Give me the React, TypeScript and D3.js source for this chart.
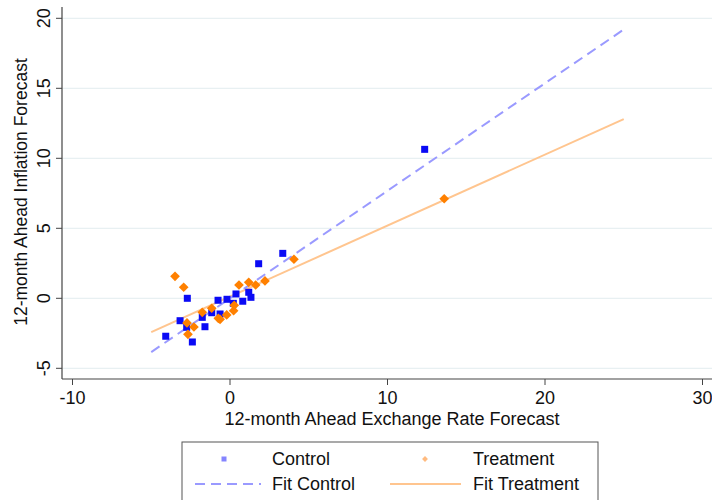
import React, { useRef, useEffect } from 'react';
import * as d3 from 'd3';

// Control group (blue squares)
const controlX = [-4.08, -3.17, -2.71, -2.75, -2.39, -1.76, -1.59, -1.16, -0.76, -0.63, -0.19, 0.21, 0.38, 0.81, 1.19, 1.33, 1.82, 3.35, 12.36];
const controlY = [-2.71, -1.6, 0.0, -2.07, -3.12, -1.36, -2.03, -1.03, -0.14, -1.12, -0.07, -0.36, 0.31, -0.21, 0.43, 0.07, 2.47, 3.21, 10.64];

// Treatment group (orange diamonds)
const treatX = [-3.49, -2.94, -2.73, -2.67, -2.29, -1.76, -1.16, -0.74, -0.63, -0.21, 0.23, 0.27, 0.57, 1.19, 1.63, 2.22, 4.06, 13.6];
const treatY = [1.57, 0.79, -1.76, -2.57, -2.05, -1.0, -0.71, -1.43, -1.5, -1.19, -0.89, -0.5, 0.95, 1.14, 0.95, 1.24, 2.79, 7.11];

// fitted lines, endpoints
const fitX = [-5, 25];
const fitControlY = [-3.84, 19.2];
const fitTreatY = [-2.41, 12.8];

const xTicks = [-10, 0, 10, 20, 30];
const yTicks = [-5, 0, 5, 10, 15, 20];

const FONT = 'Liberation Sans, Arial, sans-serif';

const App: React.FC = () => {
  const svgRef = useRef<SVGSVGElement | null>(null);

  useEffect(() => {
    const width = 712;
    const height = 500;
    const svg = d3.select(svgRef.current);
    svg.selectAll('*').remove();

    const x = d3.scaleLinear().domain([-10, 30]).range([72.5, 702.5]);
    const y = d3.scaleLinear().domain([-5, 20]).range([368.3, 18.3]);

    const left = 62;
    const bottom = 379;
    const top = 7;

    svg.append('rect').attr('width', width).attr('height', height).attr('fill', '#fff');

    // horizontal gridlines
    svg
      .append('g')
      .selectAll('line')
      .data(yTicks)
      .enter()
      .append('line')
      .attr('x1', left)
      .attr('x2', width)
      .attr('y1', d => y(d))
      .attr('y2', d => y(d))
      .attr('stroke', '#e8f0f2')
      .attr('stroke-width', 1.2);

    // y axis
    const yAxis = svg.append('g');
    yAxis.append('line').attr('x1', left).attr('x2', left).attr('y1', top).attr('y2', bottom).attr('stroke', '#444').attr('stroke-width', 1.2);
    yAxis
      .selectAll('line.tick')
      .data(yTicks)
      .enter()
      .append('line')
      .attr('class', 'tick')
      .attr('x1', left - 6)
      .attr('x2', left)
      .attr('y1', d => y(d))
      .attr('y2', d => y(d))
      .attr('stroke', '#444');
    yAxis
      .selectAll('text')
      .data(yTicks)
      .enter()
      .append('text')
      .attr('transform', d => `translate(50,${y(d)}) rotate(-90)`)
      .attr('text-anchor', 'middle')
      .attr('font-family', FONT)
      .attr('font-size', 18)
      .attr('fill', '#111')
      .text(d => String(d));

    svg
      .append('text')
      .attr('transform', `translate(27,192) rotate(-90)`)
      .attr('text-anchor', 'middle')
      .attr('font-family', FONT)
      .attr('font-size', 17.5)
      .attr('fill', '#111')
      .text('12-month Ahead Inflation Forecast');

    // x axis
    const xAxis = svg.append('g');
    xAxis.append('line').attr('x1', left).attr('x2', width).attr('y1', bottom).attr('y2', bottom).attr('stroke', '#444').attr('stroke-width', 1.2);
    xAxis
      .selectAll('line.tick')
      .data(xTicks)
      .enter()
      .append('line')
      .attr('class', 'tick')
      .attr('x1', d => x(d))
      .attr('x2', d => x(d))
      .attr('y1', bottom)
      .attr('y2', bottom + 6)
      .attr('stroke', '#444');
    xAxis
      .selectAll('text')
      .data(xTicks)
      .enter()
      .append('text')
      .attr('x', d => x(d))
      .attr('y', 404)
      .attr('text-anchor', 'middle')
      .attr('font-family', FONT)
      .attr('font-size', 18)
      .attr('fill', '#111')
      .text(d => String(d));

    svg
      .append('text')
      .attr('x', 392)
      .attr('y', 425)
      .attr('text-anchor', 'middle')
      .attr('font-family', FONT)
      .attr('font-size', 18)
      .attr('fill', '#111')
      .text('12-month Ahead Exchange Rate Forecast');

    const line = d3
      .line<[number, number]>()
      .x(d => x(d[0]))
      .y(d => y(d[1]));

    // fit lines
    svg
      .append('path')
      .attr('d', line(fitX.map((v, i) => [v, fitTreatY[i]]) as [number, number][])!)
      .attr('fill', 'none')
      .attr('stroke', '#ffc58f')
      .attr('stroke-width', 2);
    svg
      .append('path')
      .attr('d', line(fitX.map((v, i) => [v, fitControlY[i]]) as [number, number][])!)
      .attr('fill', 'none')
      .attr('stroke', '#9a9aff')
      .attr('stroke-width', 2)
      .attr('stroke-dasharray', '10,6');

    // control squares
    const s = 7;
    svg
      .append('g')
      .selectAll('rect')
      .data(controlX.map((v, i) => [v, controlY[i]]))
      .enter()
      .append('rect')
      .attr('x', d => x(d[0]) - s / 2)
      .attr('y', d => y(d[1]) - s / 2)
      .attr('width', s)
      .attr('height', s)
      .attr('fill', '#0a0af5');

    // treatment diamonds
    const diamond = d3.symbol().type(d3.symbolDiamond2).size(60);
    svg
      .append('g')
      .selectAll('path')
      .data(treatX.map((v, i) => [v, treatY[i]]))
      .enter()
      .append('path')
      .attr('transform', d => `translate(${x(d[0])},${y(d[1])})`)
      .attr('d', diamond()!)
      .attr('fill', '#ff8000');

    // legend
    const lg = svg.append('g');
    lg.append('rect')
      .attr('x', 182)
      .attr('y', 442)
      .attr('width', 416)
      .attr('height', 70)
      .attr('fill', '#fff')
      .attr('stroke', '#555')
      .attr('stroke-width', 1);
    lg.append('rect').attr('x', 221.5).attr('y', 456.5).attr('width', 5).attr('height', 5).attr('fill', '#8585ff');
    lg.append('path')
      .attr('transform', 'translate(425,459)')
      .attr('d', d3.symbol().type(d3.symbolDiamond2).size(22)()!)
      .attr('fill', '#ffbb80');
    lg.append('line')
      .attr('x1', 195)
      .attr('x2', 261)
      .attr('y1', 484)
      .attr('y2', 484)
      .attr('stroke', '#9a9aff')
      .attr('stroke-width', 2)
      .attr('stroke-dasharray', '10,6');
    lg.append('line')
      .attr('x1', 390)
      .attr('x2', 461)
      .attr('y1', 484)
      .attr('y2', 484)
      .attr('stroke', '#ffc58f')
      .attr('stroke-width', 2);
    const labels: [string, number, number][] = [
      ['Control', 272, 465],
      ['Treatment', 473, 465],
      ['Fit Control', 272, 490],
      ['Fit Treatment', 473, 490],
    ];
    lg.selectAll('text')
      .data(labels)
      .enter()
      .append('text')
      .attr('x', d => d[1])
      .attr('y', d => d[2])
      .attr('font-family', FONT)
      .attr('font-size', 18)
      .attr('fill', '#111')
      .text(d => d[0]);
  }, []);

  return <svg ref={svgRef} width={712} height={500} style={{ position: 'absolute', left: 0, top: 0 }}></svg>;
};

export default App;
